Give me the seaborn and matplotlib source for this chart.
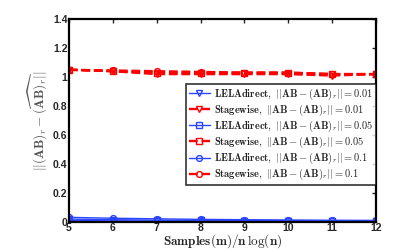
import matplotlib
matplotlib.use("Agg")
import matplotlib.pyplot as plt
import seaborn as sns
import pandas as pd

samples = [5, 6, 7, 8, 9, 10, 11, 12]
lela_001 = [0.010, 0.008, 0.007, 0.006, 0.006, 0.005, 0.005, 0.005]
stage_001 = [1.05, 1.04, 1.02, 1.02, 1.02, 1.02, 1.01, 1.02]
lela_005 = [0.020, 0.016, 0.013, 0.011, 0.010, 0.009, 0.008, 0.008]
stage_005 = [1.05, 1.04, 1.03, 1.03, 1.03, 1.03, 1.02, 1.02]
lela_01 = [0.032, 0.026, 0.022, 0.018, 0.016, 0.014, 0.012, 0.011]
stage_01 = [1.05, 1.045, 1.04, 1.035, 1.03, 1.03, 1.02, 1.02]
x_ticks = [5, 6, 7, 8, 9, 10, 11, 12]
y_ticks = [0, 0.2, 0.4, 0.6, 0.8, 1.0, 1.2, 1.4]
y_tick_labels = ["0", "0.2", "0.4", "0.6", "0.8", "1", "1.2", "1.4"]

err = r"||\mathbf{AB}-(\mathbf{AB})_r||"
series = [
    (r"$\mathbf{LELAdirect},\ " + err + r"=\mathbf{0.01}$", lela_001, "#2a45ff", "-", "v"),
    (r"$\mathbf{Stagewise},\ " + err + r"=\mathbf{0.01}$", stage_001, "#ff0000", "--", "v"),
    (r"$\mathbf{LELAdirect},\ " + err + r"=\mathbf{0.05}$", lela_005, "#2a45ff", "-", "s"),
    (r"$\mathbf{Stagewise},\ " + err + r"=\mathbf{0.05}$", stage_005, "#ff0000", "--", "s"),
    (r"$\mathbf{LELAdirect},\ " + err + r"=\mathbf{0.1}$", lela_01, "#2a45ff", "-", "o"),
    (r"$\mathbf{Stagewise},\ " + err + r"=\mathbf{0.1}$", stage_01, "#ff0000", "--", "o"),
]

sns.set_style("white")
plt.rcParams["mathtext.fontset"] = "cm"
plt.rcParams["font.family"] = ["Liberation Sans", "DejaVu Sans"]

fig = plt.figure(figsize=(4.15, 2.5), dpi=100)
ax = fig.add_axes([0.166, 0.112, 0.740, 0.812])

for label, vals, color, ls, mk in series:
    df = pd.DataFrame({"x": samples, "y": vals})
    line_kw = dict(dashes=(1.6, 1.0)) if ls == "--" else {}
    sns.lineplot(data=df, x="x", y="y", ax=ax, color=color, linestyle=ls,
                 marker=mk, markersize=4.2, markerfacecolor="none",
                 markeredgecolor=color, markeredgewidth=1.0,
                 linewidth=1.7 if ls == "--" else 1.0, label=label, **line_kw)

ax.set_xlim(5, 12)
ax.set_ylim(0, 1.4)
ax.set_xticks(x_ticks)
ax.set_xticklabels([str(t) for t in x_ticks], fontsize=7.5, fontweight="bold")
ax.set_yticks(y_ticks)
ax.set_yticklabels(y_tick_labels, fontsize=7.5, fontweight="bold")
ax.tick_params(direction="in", length=3, width=1, top=True, right=True, pad=1)
for s in ax.spines.values():
    s.set_color("black")
    s.set_linewidth(1.6)

ax.set_xlabel(r"$\mathbf{Samples(m)/n}\,\log(\mathbf{n})$", fontsize=9.5, labelpad=-1)
ax.set_ylabel(r"$||(\mathbf{AB})_r-\widehat{(\mathbf{AB})_r}||$", fontsize=9.5,
              color="#555555", labelpad=2)

leg = ax.legend(loc="lower right", bbox_to_anchor=(1.0, 0.182), fontsize=7.5,
                frameon=True, fancybox=False, borderpad=0.25, labelspacing=0.08,
                handlelength=2.0, handletextpad=0.4, borderaxespad=0)
leg.get_frame().set_edgecolor("black")
leg.get_frame().set_linewidth(1.2)

fig.savefig("out.png", dpi=100)
